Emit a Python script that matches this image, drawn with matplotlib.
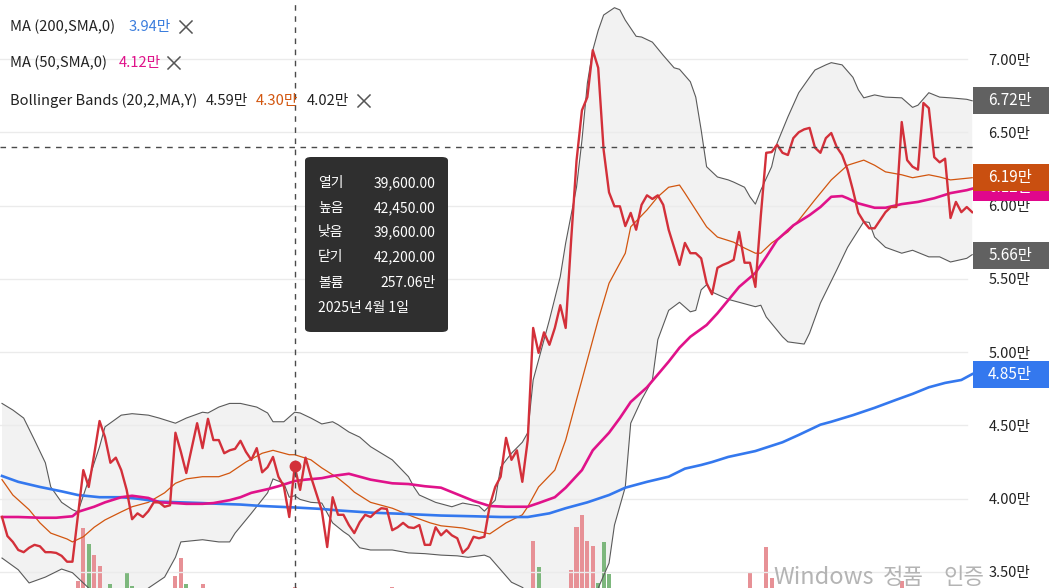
import matplotlib
matplotlib.use('Agg')
import matplotlib.pyplot as plt
import matplotlib.transforms as mtransforms
from matplotlib.patches import Rectangle, FancyBboxPatch
from matplotlib.lines import Line2D
import numpy as np

plt.rcParams['font.family'] = ['Noto Sans CJK KR', 'DejaVu Sans']

# 종가 (일별, 0..179)
close = [
    38750, 37450, 37050, 36500, 36350, 36650, 36850, 36750, 36350, 36350,
    36300, 36100, 35700, 35700, 38800, 41950, 40800, 43000, 45300, 44200,
    42450, 42800, 41950, 40600, 38600, 39000, 38750, 39150, 39750, 39750,
    39450, 39550, 44500, 43200, 41750, 43450, 45150, 43450, 45450, 44000,
    44000, 43100, 43300, 43400, 43950, 43200, 42650, 43450, 41800, 42150,
    42850, 41500, 40850, 38750, 42200, 40600, 42800, 41500, 40350, 39200,
    36700, 40100, 38900, 38900, 38200, 37650, 38400, 38900, 38750, 39100,
    39350, 39300, 37850, 38050, 38350, 38050, 38000, 38200, 36850, 36850,
    38050, 37500, 37850, 37500, 37300, 36300, 36650, 37400, 37300, 37400,
    39550, 40800, 41500, 44150, 42650, 43300, 41150, 44000, 51650, 49950,
    51350, 50500, 51650, 53200, 51650, 57600, 63050, 66500, 67400, 70600,
    69400, 63800, 60900, 59950, 59950, 58600, 59500, 58350, 60050, 60700,
    60450, 60700, 60050, 58350, 57150, 55950, 57450, 56750, 56750, 56400,
    54700, 53950, 55750, 55950, 56100, 56300, 58200, 56100, 56100, 54450,
    59300, 63600, 63650, 64150, 63600, 63450, 64600, 65000, 65200, 65300,
    63950, 63600, 64600, 64950, 64000, 63450, 62450, 61050, 59500, 58900,
    58450, 58450, 59000, 59550, 59900, 59900, 65700, 63100, 62650, 62450,
    67000, 66650, 63300, 62950, 63200, 59150, 60250, 59550, 59900, 59550,
]
days = list(range(len(close)))

# 볼린저 밴드 상단 / 중단 / 하단 (일, 값)
bb_up_days = [0, 2, 4, 6, 8, 9, 11, 13, 14, 16, 18, 19, 22, 24, 27, 29, 32, 34, 37, 38,
              40, 42, 44, 47, 49, 50, 52, 54, 55, 57, 59, 61, 62, 64, 66, 68, 72, 75, 76, 77,
              80, 83, 85, 88, 89, 91, 92, 94, 96, 97, 98, 101, 103, 104, 106, 107, 108, 109, 110, 111,
              113, 114, 115, 117, 118, 120, 122, 124, 125, 127, 128, 129, 130, 131, 132, 134, 135, 137, 138, 139,
              140, 142, 143, 145, 147, 149, 150, 152, 153, 155, 157, 158, 159, 161, 163, 166, 168, 169, 171, 173,
              175, 178, 179]
bb_up_vals = [46500, 46050, 45500, 44000, 42450, 40800, 39750, 39250, 39100, 41300, 43550, 44900, 45700, 45800, 45700, 45500, 45150, 45500, 45900, 45850,
              46250, 46500, 46500, 46250, 45850, 45250, 45250, 45900, 45850, 45500, 45100, 45250, 45050, 44550, 44200, 43550, 42650, 41500, 40800, 40250,
              39750, 39450, 39700, 39500, 39150, 39900, 42150, 43100, 43850, 44500, 48100, 52200, 55150, 57450, 61250, 64450, 68350, 70600, 71950, 73000,
              73500, 73350, 72650, 71550, 71500, 71150, 70250, 69400, 69300, 68450, 67400, 65150, 62650, 62300, 61950, 61750, 61600, 61250, 60600, 60100,
              61050, 62650, 64250, 66050, 67700, 68750, 69250, 69600, 69750, 69600, 68750, 67900, 67350, 67550, 67400, 67350, 66700, 66850, 67700, 67400,
              67350, 67250, 67150]

bb_mid_days = [0, 2, 5, 7, 9, 12, 13, 15, 17, 19, 22, 24, 27, 30, 32, 34, 37, 40, 42, 45,
               48, 50, 53, 54, 57, 59, 62, 64, 65, 68, 72, 76, 79, 81, 85, 88, 90, 91, 93, 96,
               97, 99, 102, 104, 106, 107, 110, 112, 115, 116, 119, 121, 123, 125, 126, 128, 130, 132, 135, 137,
               139, 140, 142, 145, 147, 150, 153, 156, 159, 161, 163, 166, 168, 171, 173, 175, 179]
bb_mid_vals = [41300, 40250, 39250, 38350, 37650, 37250, 37050, 37400, 38050, 38550, 39100, 39450, 39750, 40400, 41050, 41350, 41500, 41500, 41750, 42500,
               43100, 43300, 43000, 43000, 42650, 42100, 41400, 40800, 40450, 39750, 39350, 38750, 38350, 38150, 38000, 37750, 37600, 37850, 38350, 38900,
               39450, 40800, 41950, 44000, 46750, 48100, 52200, 54700, 56750, 58550, 59700, 60600, 61250, 61400, 60850, 59700, 58550, 57850, 57500, 57100,
               56750, 56750, 57450, 58200, 59000, 60400, 61750, 62750, 63100, 62750, 62300, 62100, 61900, 62100, 61950, 61750, 61900]

bb_low_days = [0, 3, 5, 8, 11, 13, 14, 16, 18, 20, 23, 27, 30, 32, 33, 37, 40, 42, 43, 45,
               46, 49, 50, 52, 53, 54, 55, 57, 59, 61, 63, 64, 66, 68, 72, 75, 78, 81, 84, 86,
               89, 90, 92, 94, 96, 99, 102, 105, 108, 110, 112, 113, 115, 116, 118, 120, 121, 123, 125, 127,
               128, 129, 130, 131, 134, 136, 139, 140, 141, 144, 145, 148, 149, 151, 154, 156, 159, 160, 161, 163,
               166, 168, 171, 173, 175, 178, 179]
bb_low_vals = [35950, 35150, 34250, 34650, 35200, 34950, 34600, 33900, 32900, 32300, 32000, 33900, 34650, 36000, 37050, 37200, 37050, 37050, 37650, 38550,
               39000, 40400, 41350, 41050, 40100, 40200, 39950, 39750, 39700, 38350, 37750, 37500, 36650, 36500, 36500, 36300, 36250, 36150, 36100, 36000,
               36150, 36000, 35150, 34300, 33950, 33000, 32400, 32300, 33000, 33900, 35600, 38200, 40800, 45150, 46750, 48100, 50850, 52850, 53400, 52750,
               52850, 54250, 54600, 54100, 53600, 53400, 53100, 53200, 52400, 51050, 50700, 50550, 51300, 53350, 55600, 57150, 58900, 58850, 57850, 57150,
               56750, 56950, 56500, 56500, 56150, 56400, 56650]

# 이동평균선
ma50_days = [0, 3, 7, 10, 13, 14, 17, 19, 22, 24, 27, 29, 32, 34, 37, 39, 42, 44, 46, 49,
             51, 54, 56, 59, 61, 64, 66, 68, 72, 75, 78, 81, 84, 87, 90, 93, 97, 99, 102, 104,
             107, 109, 112, 114, 116, 119, 123, 125, 127, 130, 132, 136, 139, 141, 143, 146, 149, 151, 153, 155,
             156, 158, 161, 163, 166, 169, 172, 175, 178, 179]
ma50_vals = [38750, 38750, 38700, 38700, 38800, 39100, 39450, 39750, 40100, 40200, 40050, 39750, 39700, 39650, 39650, 39700, 39900, 40100, 40400, 40650,
             40850, 41200, 41300, 41400, 41550, 41700, 41500, 41300, 41050, 41000, 40850, 40750, 40300, 39850, 39500, 39450, 39450, 39700, 40100, 40750,
             41950, 43300, 44500, 45500, 46600, 47600, 49350, 50300, 51050, 51850, 52650, 54450, 55400, 56500, 57650, 58650, 59350, 59900, 60600, 60650,
             60500, 60150, 59850, 59850, 60100, 60250, 60500, 60850, 61050, 61150]

ma200_days = [0, 3, 7, 11, 14, 18, 22, 25, 29, 33, 37, 40, 44, 48, 51, 54, 59, 62, 64, 68,
              75, 81, 87, 92, 97, 101, 104, 108, 112, 115, 119, 123, 126, 129, 131, 134, 139, 144, 147, 151,
              153, 157, 161, 165, 168, 171, 174, 177, 179]
ma200_vals = [41550, 41150, 40800, 40500, 40250, 40100, 40100, 40000, 39800, 39750, 39700, 39650, 39600, 39500, 39450, 39400, 39300, 39200, 39150, 39050,
              38950, 38850, 38800, 38750, 38750, 39000, 39350, 39750, 40250, 40750, 41150, 41500, 42050, 42300, 42500, 42850, 43250, 43850, 44350, 45050,
              45250, 45700, 46200, 46750, 47150, 47600, 47900, 48100, 48500]

# 거래량 (만주)
vol_days = [14, 15, 16, 17, 18, 20, 23, 24, 32, 33, 34, 37, 54, 72, 98, 99,
            105, 106, 107, 108, 109, 110, 111, 112, 138, 141, 142, 166]
vol_vals = [1750, 15000, 11000, 8250, 5500, 1000, 4000, 500, 3000, 7500, 1000, 1000, 257.06, 300, 11750, 5250,
            4500, 15250, 18250, 11750, 10500, 1250, 11500, 3500, 4000, 10250, 2500, 1750]
vol_up = [1, 1, 0, 1, 1, 0, 0, 0, 1, 1, 0, 1, 1, 1, 1, 0,
          1, 1, 1, 1, 1, 0, 0, 0, 1, 1, 1, 1]
vol_full = 147000  # 패널 높이에 해당하는 거래량

y_ticks = [35000, 40000, 45000, 50000, 55000, 60000, 65000, 70000]

cross_day = 54
cross_price = 64000

tip_labels = ['열기', '높음', '낮음', '닫기', '볼륨']
tip_values = ['39,600.00', '42,450.00', '39,600.00', '42,200.00', '257.06만']
tip_date = '2025년 4월 1일'

# 오른쪽 가격 라벨 (값, 색)
last_labels = [(61200, '6.12만', '#e0078b'), (61900, '6.19만', '#c94f10'),
               (67200, '6.72만', '#616161'), (56600, '5.66만', '#616161'),
               (48500, '4.85만', '#3478ee')]

RED = '#d3303a'
BLUE = '#3478ee'
MAGENTA = '#e0128a'
ORANGE = '#d2560f'
GRAY = '#5a5a5a'

W, H = 1049, 588
fig = plt.figure(figsize=(W / 100, H / 100), dpi=100)
ax = fig.add_axes([0, 0, 973 / W, 1])


def fx(px):
    return px / W


def fy(py):
    return 1 - py / H


# 볼린저 밴드 채우기
ax.fill(np.r_[bb_up_days, bb_low_days[::-1]], np.r_[bb_up_vals, bb_low_vals[::-1]],
        color='#f2f2f2', lw=0, zorder=1)

# 거래량 막대
vol_colors = ['#e79196' if u else '#7db77d' for u in vol_up]
ax.bar(vol_days, np.array(vol_vals) / vol_full, width=0.75, color=vol_colors,
       transform=ax.get_xaxis_transform(), zorder=1.5)

for t in y_ticks:
    ax.axhline(t, xmax=0.994, color='#ebebeb', lw=1, zorder=1.8)

ax.plot(bb_up_days, bb_up_vals, color=GRAY, lw=0.8, zorder=2)
ax.plot(bb_low_days, bb_low_vals, color=GRAY, lw=0.8, zorder=2)
ax.plot(bb_mid_days, bb_mid_vals, color=ORANGE, lw=0.9, zorder=2.1)
ax.plot(ma200_days, ma200_vals, color=BLUE, lw=1.9, zorder=2.2)
ax.plot(ma50_days, ma50_vals, color=MAGENTA, lw=1.9, zorder=2.3)
ax.plot(days, close, color=RED, lw=1.7, zorder=3)

# 십자선
ax.axvline(cross_day, color='#4a4a4a', lw=1, ls=(0, (4, 4)), zorder=4)
ax.axhline(cross_price, color='#4a4a4a', lw=1, ls=(0, (4, 4)), zorder=4)
ax.plot(cross_day, close[cross_day], 'o', color=RED, ms=7.5, zorder=5)

ax.set_xlim(-2 / 5.42, 971 / 5.42)
ax.set_ylim(33906, 74026)
ax.set_xticks([])
ax.yaxis.tick_right()
ax.set_yticks(y_ticks)
ax.set_yticklabels([f'{t / 10000:.2f}만' for t in y_ticks])
ax.tick_params(axis='y', length=0, pad=11, labelsize=10.5, labelcolor='#222222')
for s in ax.spines.values():
    s.set_visible(False)

# 오른쪽 값 라벨 박스 (먼저 그린 박스가 뒤에 가려짐)
trans = mtransforms.blended_transform_factory(fig.transFigure, ax.transData)
box_h = 27 * (74026 - 33906) / H
rects = []
for i, (v, txt, c) in enumerate(last_labels):
    rect = Rectangle((973 / W, v - box_h / 2), (W - 973) / W, box_h, transform=trans,
                     facecolor=c, edgecolor='none', clip_on=False, zorder=6 + i)
    ax.add_patch(rect)
    rects.append(rect)
    t = ax.text(1010 / W, v, txt, transform=trans, ha='center', va='center', color='white',
                fontsize=11, clip_on=False, zorder=6.5 + i)
    if i == 0:
        # 주황 박스 아래로 보이는 부분만 남김
        lo = v - box_h / 2
        hi = last_labels[1][0] - box_h / 2
        clip = Rectangle((973 / W, lo), (W - 973) / W, hi - lo, transform=trans,
                         facecolor='none', edgecolor='none')
        t.set_clip_path(clip)
        t.set_clip_on(True)

# 범례
legend_rows = [
    (27, [(10, 'MA (200,SMA,0)', '#222222'), (129, '3.94만', '#3b7ddd')], 186),
    (63, [(10, 'MA (50,SMA,0)', '#222222'), (119, '4.12만', MAGENTA)], 174),
    (101, [(10, 'Bollinger Bands (20,2,MA,Y)', '#222222'), (206, '4.59만', '#222222'),
           (256, '4.30만', ORANGE), (307, '4.02만', '#222222')], 364),
]
for y, parts, xc in legend_rows:
    for x, txt, c in parts:
        fig.text(fx(x), fy(y), txt, color=c, fontsize=10.6, va='center', ha='left')
    for dx in (-1, 1):
        fig.add_artist(Line2D([fx(xc - 6), fx(xc + 6)], [fy(y - 6 * dx), fy(y + 6 * dx)],
                              color='#555555', lw=1.1))

# 툴팁
tip = FancyBboxPatch((fx(305), fy(332)), fx(448) - fx(305), fy(157) - fy(332),
                     boxstyle='round,pad=0,rounding_size=0.006', transform=fig.transFigure,
                     facecolor='#2f2f2f', edgecolor='none', zorder=10)
fig.add_artist(tip)
row_y = [183, 208, 232, 257, 283]
for y, lab, val in zip(row_y, tip_labels, tip_values):
    fig.text(fx(318), fy(y), lab, color='white', fontsize=10, va='center', ha='left', zorder=11)
    fig.text(fx(436), fy(y), val, color='white', fontsize=10, va='center', ha='right', zorder=11)
fig.text(fx(318), fy(308), tip_date, color='white', fontsize=10, va='center', ha='left', zorder=11)

# 워터마크
fig.text(fx(773), fy(584), 'Windows', color='#b4b4b4', fontsize=17,
         va='baseline', ha='left', zorder=12)
fig.text(fx(883), fy(584), '정품', color='#b4b4b4', fontsize=16,
         va='baseline', ha='left', zorder=12)
fig.text(fx(943), fy(584), '인증', color='#b4b4b4', fontsize=16,
         va='baseline', ha='left', zorder=12)

fig.savefig('out.png', dpi=100)
